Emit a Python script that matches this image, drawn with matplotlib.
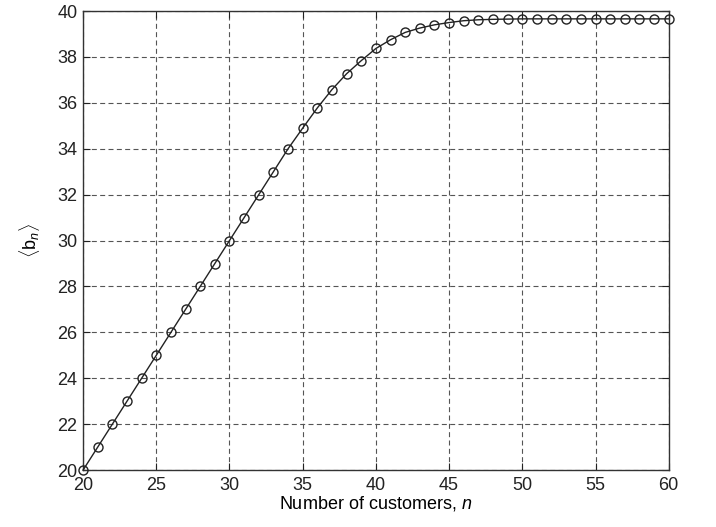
import matplotlib
matplotlib.use('Agg')
import matplotlib.pyplot as plt

# data
les_n = list(range(20, 61))
les_b = [20, 21, 22, 23, 24, 25, 26, 27, 28, 29,
         30, 31, 32, 33, 34, 34.9, 35.78, 36.58, 37.27, 37.84,
         38.37, 38.75, 39.07, 39.26, 39.40, 39.50, 39.58, 39.62, 39.64, 39.65,
         39.66, 39.66, 39.66, 39.66, 39.66, 39.66, 39.66, 39.66, 39.66, 39.66,
         39.66]

les_xticks = [20, 25, 30, 35, 40, 45, 50, 55, 60]
les_yticks = [20, 22, 24, 26, 28, 30, 32, 34, 36, 38, 40]

plt.rcParams['font.family'] = ['Liberation Sans', 'DejaVu Sans']
plt.rcParams['mathtext.fontset'] = 'custom'
plt.rcParams['mathtext.rm'] = 'Liberation Sans'
plt.rcParams['mathtext.it'] = 'Liberation Sans:italic'

fig = plt.figure(figsize=(7.16, 5.27), dpi=100)
ax = fig.add_axes([0.116, 0.108, 0.818, 0.871])

ax.plot(les_n, les_b, color='#222222', lw=1.0, marker='o', ms=6.5,
        mfc='none', mec='#222222', mew=1.0, clip_on=False, zorder=3)

ax.set_xlim(20, 60)
ax.set_ylim(20, 40)
ax.set_xticks(les_xticks)
ax.set_yticks(les_yticks)
ax.tick_params(direction='in', top=True, right=True, labelsize=13,
               length=5, width=0.8, colors='#222222', pad=3)
ax.tick_params(axis='x', pad=5)
ax.tick_params(axis='y', pad=4)
ax.grid(True, linestyle=(0, (4.5, 3)), color='#555555', lw=0.8)
for s in ax.spines.values():
    s.set_color('#333333')
    s.set_linewidth(1.0)

ax.set_xlabel(r'Number of customers, $n$', fontsize=13, labelpad=0)
ax.set_ylabel(r'$\langle\mathrm{b}_n\rangle$', fontsize=13, labelpad=11)

fig.savefig('out.png', dpi=100)
